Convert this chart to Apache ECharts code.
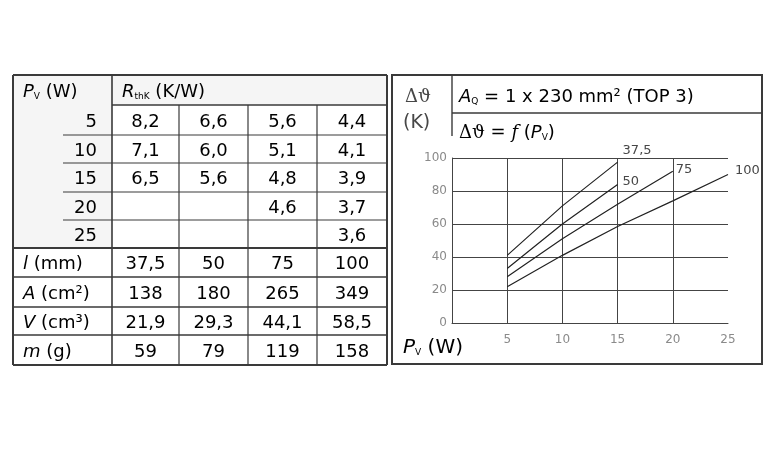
<!DOCTYPE html>
<html>
<head>
<meta charset="utf-8">
<script src="https://cdn.jsdelivr.net/npm/echarts@6/dist/echarts.min.js"></script>
<style>
  html, body { margin: 0; padding: 0; background: #fff; }
  #chart { width: 777px; height: 451px; }
</style>
</head>
<body>
<div id="chart"></div>
<script>
// table data
const pvRows = [5, 10, 15, 20, 25];
const lengthMm = ['37,5', '50', '75', '100'];
const rth375 = [8.2, 7.1, 6.5, null, null];
const rth50 = [6.6, 6.0, 5.6, null, null];
const rth75 = [5.6, 5.1, 4.8, 4.6, null];
const rth100 = [4.4, 4.1, 3.9, 3.7, 3.6];
const areaCm2 = [138, 180, 265, 349];
const volumeCm3 = [21.9, 29.3, 44.1, 58.5];
const massG = [59, 79, 119, 158];

// curve data (K)
const dT375 = [41, 71, 97.5];
const dT50 = [33, 60, 84];
const dT75 = [28, 51, 72, 92];
const dT100 = [22, 41, 58.5, 74, 90];
const xTicks = [5, 10, 15, 20, 25];
const yTicks = [0, 20, 40, 60, 80, 100];

const FONT = 'DejaVu Sans';
const INK = '#474747';

const dec1 = (v) => (v == null ? '' : v.toFixed(1).replace('.', ','));

// table layout (in table axis units)
const colEdges = [0, 99, 166, 235, 304, 374];
const rowEdges = [0, 30, 60, 88, 117, 145, 173, 202, 232, 260, 290];

const rich = {
  i: { fontFamily: FONT, fontStyle: 'italic', fontSize: 18, color: INK },
  s: { fontFamily: FONT, fontSize: 9, color: INK, padding: [9, 0, 0, 0] },
  n: { fontFamily: FONT, fontSize: 18, color: INK },
};

// text cells: [col, row, text, align]
const cells = [];
cells.push([0, 0, '{i|P}{s|V}{n| (W)}', 'left']);
cells.push([1, 0, '{i|R}{s|thK}{n| (K/W)}', 'left']);
const rthCols = [rth375, rth50, rth75, rth100];
pvRows.forEach((pv, r) => {
  cells.push([0, r + 1, '{n|' + pv + '}', 'right']);
  rthCols.forEach((col, c) => {
    if (col[r] != null) cells.push([c + 1, r + 1, '{n|' + dec1(col[r]) + '}', 'center']);
  });
});
const lowerRows = [
  ['{i|l}{n| (mm)}', lengthMm],
  ['{i|A}{n| (cm²)}', areaCm2.map(String)],
  ['{i|V}{n| (cm³)}', volumeCm3.map(dec1)],
  ['{i|m}{n| (g)}', massG.map(String)],
];
lowerRows.forEach((row, k) => {
  const r = 6 + k;
  cells.push([0, r, row[0], 'left']);
  row[1].forEach((v, c) => cells.push([c + 1, r, '{n|' + v + '}', 'center']));
});

// table rules: [x1, y1, x2, y2, width]
const rules = [
  [0, 0, 374, 0, 2], [0, 290, 374, 290, 2], [0, 0, 0, 290, 2], [374, 0, 374, 290, 2],
  [99, 0, 99, 290, 1.6],
  [99, 30, 374, 30, 1.4],
];
[166, 235, 304].forEach((x) => rules.push([x, 30, x, 290, 1.2]));
[60, 88, 117, 145].forEach((y) => rules.push([50, y, 374, y, 1.2]));
rules.push([0, 173, 374, 173, 2]);
[202, 232, 260].forEach((y) => rules.push([0, y, 374, y, 1.4]));

// shaded header areas: [x1, y1, x2, y2]
const shades = [[0, 0, 99, 173], [99, 0, 374, 30]];

const curves = [
  { name: '37,5', data: dT375, offset: [0, -12] },
  { name: '50', data: dT50, offset: [0, -3] },
  { name: '75', data: dT75, offset: [-2, -2] },
  { name: '100', data: dT100, offset: [2, -4] },
];

const chart = echarts.init(document.getElementById('chart'), null, { renderer: 'canvas' });

const option = {
  backgroundColor: '#fff',
  animation: false,
  grid: [
    { left: 452, top: 158, width: 276, height: 165 },
    { left: 13, top: 75, width: 374, height: 290 },
  ],
  xAxis: [
    {
      type: 'value', gridIndex: 0, min: 0, max: 25, interval: 5,
      axisLine: { show: true, lineStyle: { color: '#444', width: 1 } },
      axisTick: { show: false },
      axisLabel: {
        margin: 11, color: '#8a8a8a', fontFamily: FONT, fontSize: 12,
        formatter: (v) => (xTicks.includes(v) ? String(v) : ''),
      },
      splitLine: { show: true, showMaxLine: false, lineStyle: { color: '#444', width: 1 } },
    },
    { type: 'value', gridIndex: 1, min: 0, max: 374, show: false },
  ],
  yAxis: [
    {
      type: 'value', gridIndex: 0, min: 0, max: 100, interval: 20,
      axisLine: { show: true, lineStyle: { color: '#444', width: 1 } },
      axisTick: { show: false },
      axisLabel: {
        margin: 5, color: '#8a8a8a', fontFamily: FONT, fontSize: 12,
        formatter: (v) => (yTicks.includes(v) ? String(v) : ''),
      },
      splitLine: { show: true, lineStyle: { color: '#444', width: 1 } },
    },
    { type: 'value', gridIndex: 1, min: 0, max: 290, inverse: true, show: false },
  ],
  series: [
    ...curves.map((c) => ({
      type: 'line',
      name: c.name,
      xAxisIndex: 0,
      yAxisIndex: 0,
      showSymbol: false,
      symbol: 'none',
      data: c.data.map((v, i) => [pvRows[i], v]),
      lineStyle: { color: '#222', width: 1.2 },
      endLabel: {
        show: true, formatter: c.name, offset: c.offset, distance: 5,
        color: INK, fontFamily: FONT, fontSize: 13,
      },
    })),
    {
      type: 'custom',
      xAxisIndex: 1,
      yAxisIndex: 1,
      z: 1,
      data: shades,
      renderItem(params, api) {
        const p1 = api.coord([api.value(0), api.value(1)]);
        const p2 = api.coord([api.value(2), api.value(3)]);
        return {
          type: 'rect',
          shape: { x: p1[0], y: p1[1], width: p2[0] - p1[0], height: p2[1] - p1[1] },
          style: { fill: '#f5f5f5' },
        };
      },
    },
    {
      type: 'custom',
      xAxisIndex: 1,
      yAxisIndex: 1,
      z: 3,
      data: rules,
      renderItem(params, api) {
        const p1 = api.coord([api.value(0), api.value(1)]);
        const p2 = api.coord([api.value(2), api.value(3)]);
        return {
          type: 'line',
          shape: { x1: p1[0], y1: p1[1], x2: p2[0], y2: p2[1] },
          style: { stroke: '#3a3a3a', lineWidth: api.value(4) },
        };
      },
    },
    {
      type: 'custom',
      xAxisIndex: 1,
      yAxisIndex: 1,
      z: 4,
      data: cells.map((c) => [c[0], c[1]]),
      renderItem(params, api) {
        const cell = cells[params.dataIndex];
        const col = cell[0];
        const row = cell[1];
        const align = cell[3];
        let x;
        if (align === 'center') x = (colEdges[col] + colEdges[col + 1]) / 2;
        else if (align === 'right') x = colEdges[col + 1] - 15;
        else x = colEdges[col] + 10;
        const y = (rowEdges[row] + rowEdges[row + 1]) / 2 + 2;
        const p = api.coord([x, y]);
        return {
          type: 'text',
          x: p[0],
          y: p[1],
          style: {
            text: cell[2], rich, align, verticalAlign: 'middle',
          },
        };
      },
    },
  ],
  graphic: [
    // right panel frame
    { type: 'rect', shape: { x: 392, y: 75, width: 370, height: 289 }, style: { fill: 'none', stroke: '#3a3a3a', lineWidth: 2 } },
    { type: 'line', shape: { x1: 452, y1: 75, x2: 452, y2: 136 }, style: { stroke: '#3a3a3a', lineWidth: 1.4 } },
    { type: 'line', shape: { x1: 452, y1: 113, x2: 762, y2: 113 }, style: { stroke: '#3a3a3a', lineWidth: 1.4 } },
    { type: 'text', x: 405, y: 97, style: { text: 'Δϑ', font: '18px "DejaVu Serif"', fill: INK, verticalAlign: 'middle' } },
    { type: 'text', x: 403, y: 123, style: { text: '(K)', font: '19px "DejaVu Sans"', fill: INK, verticalAlign: 'middle' } },
    {
      type: 'text', x: 459, y: 97,
      style: {
        text: '{i|A}{s|Q}{n| = 1 x 230 mm² (TOP 3)}', rich, verticalAlign: 'middle',
      },
    },
    {
      type: 'text', x: 459, y: 133,
      style: {
        text: '{g|Δϑ = }{f|f}{n| (}{i|P}{s|V}{n|)}', verticalAlign: 'middle',
        rich: Object.assign({}, rich, {
          g: { fontFamily: 'DejaVu Serif', fontSize: 18, color: INK },
          f: { fontFamily: 'DejaVu Serif', fontStyle: 'italic', fontSize: 18, color: INK },
        }),
      },
    },
    {
      type: 'text', x: 403, y: 348,
      style: { text: '{i|P}{s|V}{n| (W)}', rich: Object.assign({}, rich, {
        i: { fontFamily: FONT, fontStyle: 'italic', fontSize: 20, color: INK },
        n: { fontFamily: FONT, fontSize: 20, color: INK },
      }), verticalAlign: 'middle' },
    },
  ],
};

chart.setOption(option);
</script>
</body>
</html>
